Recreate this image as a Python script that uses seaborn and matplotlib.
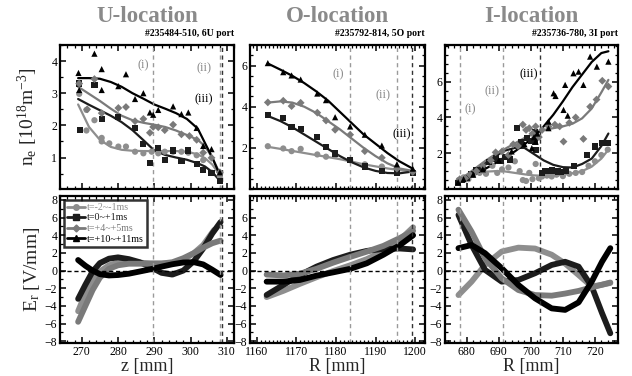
import numpy as np
import pandas as pd
import matplotlib
matplotlib.use('Agg')
import matplotlib.pyplot as plt
import seaborn as sns
from matplotlib.lines import Line2D
from matplotlib.ticker import MultipleLocator, FixedLocator

sns.set_theme(style='ticks')
plt.rcParams['font.family'] = ['Liberation Serif', 'DejaVu Serif']
plt.rcParams['mathtext.fontset'] = 'custom'
plt.rcParams['mathtext.rm'] = 'Liberation Serif'
plt.rcParams['mathtext.it'] = 'Liberation Serif:italic'

# ---------------- series styles ----------------
series = ['t=-2~-1ms', 't=0~+1ms', 't=+4~+5ms', 't=+10~+11ms']
colors = ['#8e8e8e', '#1c1c1c', '#7a7a7a', '#000000']
markers = ['o', 's', 'D', '^']

# ---------------- U-location (z [mm]) ----------------
u_pts_circ_x = [269.3, 271.3, 271.3, 273.5, 275.5, 275.5, 277.6, 280.1, 282.2, 284.7, 287.0, 289.3, 291.1, 292.9, 295.2, 297.5, 299.4, 301.7, 303.5, 305.8, 308.1]
u_pts_circ_y = [2.98, 2.48, 1.84, 2.16, 1.61, 1.50, 1.44, 1.34, 1.34, 1.18, 1.13, 1.18, 1.13, 1.18, 1.18, 1.18, 1.15, 1.07, 0.92, 0.53, 0.42]
u_pts_sq_x = [269.3, 269.5, 273.5, 275.5, 280.1, 284.7, 287.0, 288.8, 291.1, 292.9, 295.2, 297.5, 299.4, 301.7, 303.5, 305.8, 308.1]
u_pts_sq_y = [3.30, 1.85, 3.25, 2.20, 2.26, 1.92, 1.42, 0.84, 1.29, 0.93, 1.22, 0.90, 1.22, 0.81, 0.61, 0.53, 0.28]
u_pts_dia_x = [269.3, 271.5, 273.5, 275.5, 280.1, 282.2, 284.7, 287.0, 288.8, 289.7, 291.1, 292.9, 295.2, 297.5, 299.7, 301.7, 303.5, 305.8, 308.1]
u_pts_dia_y = [3.30, 2.50, 3.44, 2.38, 2.54, 2.57, 2.13, 2.20, 1.77, 1.95, 1.94, 1.85, 2.02, 1.72, 1.67, 1.55, 1.15, 0.99, 0.54]
u_pts_tri_x = [269.1, 269.3, 273.5, 275.5, 275.5, 280.1, 282.2, 284.7, 287.0, 288.8, 289.7, 291.1, 295.2, 297.5, 299.4, 301.7, 303.5, 305.8, 308.1]
u_pts_tri_y = [3.63, 3.10, 4.23, 3.75, 3.10, 3.22, 3.59, 2.82, 3.00, 2.40, 2.33, 2.48, 2.59, 2.35, 2.40, 1.92, 1.36, 1.26, 0.54]

u_fit_x = [269, 272, 275, 278, 281, 284, 287, 290, 293, 296, 299, 302, 304, 306, 308.3]
u_fit_circ = [2.65, 1.95, 1.55, 1.33, 1.24, 1.21, 1.20, 1.20, 1.20, 1.20, 1.18, 1.10, 0.98, 0.78, 0.42]
u_fit_sq = [2.82, 2.64, 2.47, 2.30, 2.10, 1.85, 1.54, 1.22, 1.08, 1.00, 0.93, 0.82, 0.72, 0.55, 0.25]
u_fit_dia = [3.20, 2.98, 2.76, 2.52, 2.30, 2.16, 2.08, 2.02, 1.95, 1.84, 1.70, 1.55, 1.35, 1.00, 0.45]
u_fit_tri = [3.47, 3.47, 3.45, 3.35, 3.20, 3.00, 2.83, 2.65, 2.52, 2.38, 2.20, 1.90, 1.45, 1.00, 0.40]

u_er_x = [269, 271, 273, 275, 277.5, 280, 283, 286, 289, 292, 295, 298, 301, 303.5, 306, 308.3]
u_er_circ_x = [269, 271, 273, 275, 277.5, 280, 283, 286, 289, 292, 295, 298, 301, 303.5, 306.5]
u_er_circ = [-4.6, -2.6, -1.1, -0.1, 0.6, 0.9, 0.95, 0.9, 0.82, 0.8, 0.85, 1.2, 2.0, 2.9, 4.6]
u_er_sq = [-3.2, -1.6, -0.1, 0.85, 1.35, 1.5, 1.3, 0.95, 0.4, -0.25, -0.45, 0.0, 1.1, 2.5, 4.2, 5.5]
u_er_dia = [-5.8, -4.0, -2.2, -0.8, 0.2, 0.6, 0.78, 0.78, 0.78, 0.8, 0.95, 1.4, 2.0, 2.6, 3.1, 3.4]
u_er_tri = [1.2, 0.55, 0.0, -0.4, -0.55, -0.5, -0.35, -0.1, 0.15, 0.45, 0.72, 0.92, 0.95, 0.7, 0.1, -0.5]

# ---------------- O-location (R [mm]) ----------------
o_pts_x = [1162.8, 1166.7, 1168.8, 1171.1, 1175.3, 1177.5, 1179.8, 1183.6, 1187.3, 1191.6, 1195.4, 1199.4]
o_pts_circ = [2.08, 1.97, 1.84, 1.95, 1.68, 1.57, 1.63, 1.40, 1.20, 1.09, 0.99, 0.83]
o_pts_sq = [3.60, 3.44, 3.00, 2.91, 2.53, 2.05, 1.73, 1.40, 1.09, 0.88, 0.76, 0.76]
o_pts_dia = [4.21, 4.29, 4.03, 4.19, 3.71, 3.33, 2.88, 2.64, 1.84, 1.52, 0.99, 0.83]
o_pts_tri = [6.12, 5.68, 5.52, 5.32, 4.64, 4.32, 3.49, 3.04, 2.64, 2.11, 1.20, 0.99]

o_fit_x = [1162.8, 1166, 1169, 1172, 1175, 1178, 1181, 1184, 1187, 1190, 1193, 1196, 1199.4]
o_fit_circ = [2.05, 1.95, 1.85, 1.75, 1.65, 1.55, 1.45, 1.33, 1.20, 1.10, 1.00, 0.92, 0.85]
o_fit_sq = [3.55, 3.30, 3.00, 2.65, 2.30, 1.95, 1.60, 1.30, 1.05, 0.88, 0.78, 0.76, 0.85]
o_fit_dia = [4.20, 4.26, 4.20, 4.00, 3.70, 3.30, 2.90, 2.45, 2.00, 1.60, 1.25, 1.00, 0.88]
o_fit_tri = [6.10, 5.80, 5.50, 5.15, 4.75, 4.30, 3.75, 3.20, 2.65, 2.20, 1.75, 1.35, 0.99]

o_er_x = [1162.5, 1166.7, 1170.9, 1175.1, 1179.3, 1183.6, 1187.8, 1192.0, 1196.2, 1199.5]
o_er_circ = [-3.0, -2.3, -1.5, -0.75, -0.05, 0.6, 1.3, 2.2, 3.5, 4.9]
o_er_sq = [-2.76, -1.63, -0.5, 0.45, 1.2, 1.8, 2.23, 2.46, 2.5, 2.4]
o_er_dia = [-0.45, -0.55, -0.35, 0.2, 0.9, 1.55, 2.15, 2.8, 3.7, 4.5]
o_er_tri = [-1.25, -1.25, -1.06, -0.57, -0.2, 0.2, 0.83, 1.8, 2.9, 4.0]

# ---------------- I-location (R [mm]) ----------------
i_pts_circ_x = [677.5, 679, 680.5, 682, 684, 686, 688, 689.5, 691, 693, 695, 696.5, 697.5, 698.5, 699.5, 700.5, 701.5, 702.5, 703.5, 705, 706.5, 708, 710, 712, 714, 716, 718, 720, 722, 724]
i_pts_circ_y = [0.5, 0.65, 0.55, 0.8, 0.9, 0.85, 1.3, 0.9, 1.1, 1.2, 1.55, 1.0, 0.5, 0.45, 0.9, 0.55, 1.4, 0.6, 0.7, 0.75, 0.7, 0.8, 0.72, 0.85, 0.9, 0.95, 1.3, 1.55, 1.9, 2.2]
i_pts_sq_x = [677.3, 678.5, 680, 681.5, 683, 685, 687, 689, 690.5, 692, 693.5, 695.6, 697, 698.7, 700, 701.3, 701.3, 701.5, 703.4, 704.5, 705.5, 706.5, 707.5, 708.5, 709.5, 711, 713.5, 717.5, 720.1, 722.3, 724.2]
i_pts_sq_y = [0.35, 0.5, 0.6, 0.85, 1.05, 1.2, 1.5, 1.7, 1.55, 1.8, 1.65, 3.4, 2.6, 2.84, 2.7, 3.2, 2.65, 2.2, 0.88, 1.0, 1.02, 1.05, 1.0, 0.98, 0.95, 1.0, 1.3, 1.9, 2.37, 2.55, 2.55]
i_pts_dia_x = [677.8, 679.5, 681, 683, 685, 687.5, 689, 691, 693, 694.5, 696, 697.5, 698.5, 699.5, 700.5, 701.5, 702.5, 703.5, 705.5, 707.5, 709, 710.2, 712, 714, 716.4, 718.5, 720.5, 722.3, 724.2]
i_pts_dia_y = [0.55, 0.6, 0.8, 1.0, 1.3, 1.6, 2.05, 2.1, 1.9, 2.5, 2.4, 3.6, 3.3, 3.4, 3.1, 3.5, 2.9, 3.3, 3.5, 3.6, 3.5, 2.65, 3.7, 4.0, 2.8, 4.6, 5.0, 6.05, 5.73]
i_pts_tri_x = [677.3, 679, 682, 685, 690, 694, 698, 700.3, 701, 701.5, 702, 705.5, 705.5, 707.1, 707.7, 710.2, 710.7, 711.5, 713.3, 714.9, 716.4, 718.5, 720.6, 724.2]
i_pts_tri_y = [0.38, 0.55, 0.8, 1.1, 1.6, 2.1, 2.5, 2.28, 2.9, 2.65, 3.1, 3.4, 3.77, 5.35, 5.2, 4.42, 5.82, 4.1, 6.47, 6.56, 5.82, 7.4, 6.84, 7.12]

i_fit_x = [677.3, 680, 683, 686, 689, 692, 695, 698, 701, 704, 707, 710, 713, 716, 719, 722, 724.2]
i_fit_circ = [0.35, 0.65, 0.85, 0.97, 1.0, 0.98, 0.9, 0.82, 0.76, 0.74, 0.75, 0.8, 0.88, 1.0, 1.25, 1.7, 2.2]
i_fit_sq = [0.35, 0.7, 1.1, 1.5, 1.85, 2.15, 2.3, 2.3, 1.95, 1.6, 1.35, 1.22, 1.2, 1.4, 1.7, 2.4, 3.1]
i_fit_dia = [0.5, 0.8, 1.2, 1.6, 1.95, 2.25, 2.55, 2.85, 3.1, 3.3, 3.4, 3.5, 3.65, 3.95, 4.5, 5.4, 6.1]
i_fit_tri = [0.35, 0.6, 0.85, 1.15, 1.45, 1.8, 2.1, 2.5, 2.9, 3.5, 4.15, 4.9, 5.7, 6.4, 7.1, 7.6, 7.7]

i_er_x = [677.4, 681.5, 685.7, 690.9, 696.1, 701.3, 706.5, 710.7, 714.9, 719.0, 722.2, 724.8]
i_er_circ = [-2.77, -1.25, 0.64, 2.16, 2.6, 2.5, 1.8, 0.8, -0.5, -1.8, -1.6, -1.4]
i_er_sq = [6.3, 2.9, 0.08, -1.25, -1.06, -0.3, 0.64, 1.0, 0.45, -1.8, -4.8, -7.1]
i_er_dia = [6.9, 4.4, 1.4, -0.87, -2.2, -2.77, -2.84, -2.6, -2.3, -1.9, -1.6, -1.35]
i_er_tri = [2.54, 2.9, 1.97, 0.27, -1.63, -3.14, -4.28, -4.45, -3.6, -1.25, 1.0, 2.54]

# ---------------- layout ----------------
W, H = 632, 376
fig = plt.figure(figsize=(W / 100, H / 100), dpi=100)

def box(x0, x1, y0, y1):
    return [x0 / W, 1 - y1 / H, (x1 - x0) / W, (y1 - y0) / H]

cols = [(60, 234), (250, 425), (445, 618)]
axs_top = [fig.add_axes(box(c[0], c[1], 45, 189)) for c in cols]
axs_bot = [fig.add_axes(box(c[0], c[1], 196, 343)) for c in cols]

panels = [
    dict(title='U-location', sub='#235484-510, 6U port', xlim=(264, 312), ylim=(0.02, 4.5),
         yticks=[1, 2, 3, 4], xminor=2,
         pts=[(u_pts_circ_x, u_pts_circ_y), (u_pts_sq_x, u_pts_sq_y), (u_pts_dia_x, u_pts_dia_y), (u_pts_tri_x, u_pts_tri_y)],
         fits=[(u_fit_x, u_fit_circ), (u_fit_x, u_fit_sq), (u_fit_x, u_fit_dia), (u_fit_x, u_fit_tri)],
         ers=[(u_er_circ_x, u_er_circ), (u_er_x, u_er_sq), (u_er_x, u_er_dia), (u_er_x, u_er_tri)],
         vlines=[(289.7, '#9a9a9a'), (308.0, '#9a9a9a'), (308.8, '#333333')],
         labels=[('(i)', 287, 3.87), ('(ii)', 303.7, 3.77), ('(iii)', 303.7, 2.81)],
         xlabel='z [mm]', ertop=8),
    dict(title='O-location', sub='#235792-814, 5O port', xlim=(1158.3, 1202.5), ylim=(0.0, 7.0),
         yticks=[2, 4, 6], xminor=1,
         pts=[(o_pts_x, o_pts_circ), (o_pts_x, o_pts_sq), (o_pts_x, o_pts_dia), (o_pts_x, o_pts_tri)],
         fits=[(o_fit_x, o_fit_circ), (o_fit_x, o_fit_sq), (o_fit_x, o_fit_dia), (o_fit_x, o_fit_tri)],
         ers=[(o_er_x, o_er_circ), (o_er_x, o_er_sq), (o_er_x, o_er_dia), (o_er_x, o_er_tri)],
         vlines=[(1183.6, '#9a9a9a'), (1195.5, '#9a9a9a'), (1199.2, '#333333')],
         labels=[('(i)', 1180.5, 5.6), ('(ii)', 1192, 4.55), ('(iii)', 1196.6, 2.64)],
         xlabel='R [mm]', ertop=6),
    dict(title='I-location', sub='#235736-780, 3I port', xlim=(673.2, 727.2), ylim=(0.0, 8.05),
         yticks=[2, 4, 6], xminor=2,
         pts=[(i_pts_circ_x, i_pts_circ_y), (i_pts_sq_x, i_pts_sq_y), (i_pts_dia_x, i_pts_dia_y), (i_pts_tri_x, i_pts_tri_y)],
         fits=[(i_fit_x, i_fit_circ), (i_fit_x, i_fit_sq), (i_fit_x, i_fit_dia), (i_fit_x, i_fit_tri)],
         ers=[(i_er_x, i_er_circ), (i_er_x, i_er_sq), (i_er_x, i_er_dia), (i_er_x, i_er_tri)],
         vlines=[(677.9, '#9a9a9a'), (691.2, '#9a9a9a'), (702.7, '#333333')],
         labels=[('(i)', 681, 4.45), ('(ii)', 687.8, 5.45), ('(iii)', 699.3, 6.4)],
         xlabel='R [mm]', ertop=8),
]

def style_axis(ax, xminor):
    for s in ax.spines.values():
        s.set_linewidth(1.6)
        s.set_color('black')
    ax.xaxis.set_major_locator(MultipleLocator(10))
    ax.xaxis.set_minor_locator(MultipleLocator(xminor))
    ax.tick_params(which='both', direction='in', top=True, right=True, colors='black',
                   labelsize=8.5, pad=2)
    ax.tick_params(which='major', length=4, width=1.1)
    ax.tick_params(which='minor', length=2, width=0.9)

for k, p in enumerate(panels):
    at, ab = axs_top[k], axs_bot[k]
    # density profiles
    for j in range(4):
        fx, fy = p['fits'][j]
        sns.lineplot(x=fx, y=fy, color=colors[j], lw=1.6, sort=False, ax=at)
        px, py = p['pts'][j]
        sns.scatterplot(x=px, y=py, marker=markers[j], color=colors[j], s=20 if markers[j] != 'D' else 16,
                        edgecolor='none', ax=at, zorder=3)
    # radial electric field
    for j in range(4):
        ex, ey = p['ers'][j]
        sns.lineplot(x=ex, y=ey, color=colors[j], lw=4.2, sort=False, ax=ab)
    ab.axhline(0, color='black', ls=(0, (3, 2)), lw=1)
    for a in (at, ab):
        for xv, c in p['vlines']:
            a.axvline(xv, color=c, ls=(0, (3, 2.5)), lw=1)
        a.set_xlim(*p['xlim'])
        style_axis(a, p['xminor'])
        a.set_xlabel('')
        a.set_ylabel('')
    at.set_ylim(*p['ylim'])
    at.yaxis.set_major_locator(FixedLocator(p['yticks']))
    at.yaxis.set_minor_locator(MultipleLocator(0.5))
    at.tick_params(labelbottom=False)
    ab.set_ylim(-8.2, 8.45)
    ab.yaxis.set_major_locator(FixedLocator(list(range(-8, p['ertop'] + 1, 2))))
    ab.yaxis.set_minor_locator(MultipleLocator(1))
    ab.set_xlabel(p['xlabel'], fontsize=13, labelpad=0)
    for txt, tx, ty in p['labels']:
        at.text(tx, ty, txt, ha='center', va='center', fontsize=9,
                color='black' if txt == '(iii)' else '#8a8a8a')
    # titles
    cx = (at.get_position().x0 + at.get_position().x1) / 2
    fig.text(cx, 1 - 17 / H, p['title'], ha='center', va='center', fontsize=16.5,
             fontweight='bold', color='#8a8a8a')
    fig.text(at.get_position().x1, 1 - 34 / H, p['sub'], ha='right', va='center',
             fontsize=7, fontweight='bold', color='black')

axs_top[0].set_ylabel(r'n$_\mathrm{e}$ [10$^{18}$m$^{-3}$]', fontsize=14, labelpad=8)
axs_bot[0].set_ylabel(r'E$_\mathrm{r}$ [V/mm]', fontsize=14, labelpad=2)

handles = [Line2D([], [], color=colors[j], marker=markers[j], lw=2,
                  markersize=4 if markers[j] != 'D' else 3.5) for j in range(4)]
leg = axs_bot[0].legend(handles, series, loc='upper left', fontsize=7.2, frameon=True,
                        handlelength=1.8, handletextpad=0.2, borderpad=0.3, labelspacing=0.15,
                        borderaxespad=0.4, fancybox=False)
leg.get_frame().set_edgecolor('black')
leg.get_frame().set_linewidth(1.8)
for t, c in zip(leg.get_texts(), colors):
    t.set_color(c)

fig.savefig('out.png', dpi=100)
